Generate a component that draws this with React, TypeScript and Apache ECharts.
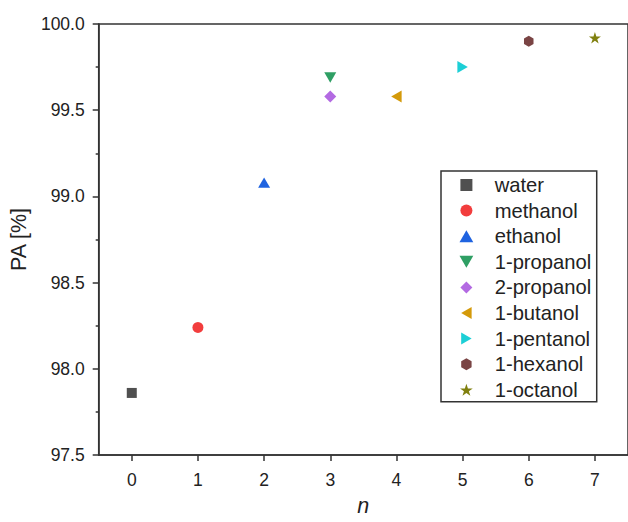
import React, { useEffect, useRef } from "react";
import * as echarts from "echarts";

// Number of carbon atoms n and the measured PA (%) for each solvent
const solvents = [
  "water",
  "methanol",
  "ethanol",
  "1-propanol",
  "2-propanol",
  "1-butanol",
  "1-pentanol",
  "1-hexanol",
  "1-octanol",
];
const carbonCount = [0, 1, 2, 3, 3, 4, 5, 6, 7];
const paValues = [97.86, 98.24, 99.08, 99.69, 99.58, 99.58, 99.75, 99.9, 99.92];
const xTicks = [0, 1, 2, 3, 4, 5, 6, 7];

const colors = [
  "#505050",
  "#f23d3d",
  "#1f63e0",
  "#2f9f64",
  "#b36ae2",
  "#d49a0a",
  "#1ccfd6",
  "#7a4444",
  "#80800f",
];

// Marker outlines as paths so that they keep their aspect in the legend too
const SQUARE = "path://M0,0 L10,0 L10,10 L0,10 Z";
const CIRCLE = "path://M5,0 A5,5 0 1,1 5,10 A5,5 0 1,1 5,0 Z";
const TRI_UP = "path://M5,0 L10,8.7 L0,8.7 Z";
const TRI_DOWN = "path://M0,0 L10,0 L5,8.7 Z";
const DIAMOND = "path://M5,0 L10,5 L5,10 L0,5 Z";
const TRI_LEFT = "path://M8.7,0 L8.7,10 L0,5 Z";
const TRI_RIGHT = "path://M0,0 L0,10 L8.7,5 Z";
const HEXAGON = "path://M5,0 L9.33,2.5 L9.33,7.5 L5,10 L0.67,7.5 L0.67,2.5 Z";
const STAR =
  "path://M50,0 L61.8,35.1 L98.6,35.1 L68.8,56.9 L80.2,92 L50,70.2 L19.8,92 L31.2,56.9 L1.4,35.1 L38.2,35.1 Z";

const symbols = [SQUARE, CIRCLE, TRI_UP, TRI_DOWN, DIAMOND, TRI_LEFT, TRI_RIGHT, HEXAGON, STAR];
const symbolSizes = [10, 11, 12, 12, 12, 12, 12, 11, 12];

const FONT = "'Liberation Sans', Arial, Helvetica, sans-serif";
const INK = "#222222";
const AXIS = "#333333";

export default function App() {
  const ref = useRef<HTMLDivElement>(null);

  useEffect(() => {
    if (!ref.current) return;
    const chart = echarts.init(ref.current, undefined, { renderer: "svg" });

    const series = solvents.map((name, i) => ({
      name,
      type: "scatter",
      symbol: symbols[i],
      symbolSize: symbolSizes[i],
      symbolKeepAspect: true,
      itemStyle: { color: colors[i], opacity: 1 },
      data: [[carbonCount[i], paValues[i]]],
    }));

    chart.setOption({
      animation: false,
      backgroundColor: "#ffffff",
      textStyle: { fontFamily: FONT },
      grid: {
        left: 98,
        top: 24,
        width: 538.6,
        height: 433.7,
        show: true,
        borderColor: AXIS,
        borderWidth: 1.5,
        backgroundColor: "transparent",
      },
      legend: {
        orient: "vertical",
        left: 441,
        top: 171,
        itemWidth: 46.6,
        itemHeight: 12,
        itemGap: 5.6,
        padding: [4, 5.5, 2, 18.5],
        borderColor: AXIS,
        borderWidth: 1.5,
        backgroundColor: "#ffffff",
        selectedMode: false,
        symbolKeepAspect: true,
        textStyle: {
          fontSize: 20.2,
          lineHeight: 20,
          color: INK,
          fontFamily: FONT,
        },
        data: solvents.map((name, i) => ({
          name,
          icon: symbols[i],
        })),
      },
      xAxis: {
        type: "value",
        min: -0.5,
        max: 7.5,
        name: "n",
        nameLocation: "middle",
        nameGap: 40,
        nameTextStyle: {
          fontSize: 21.5,
          fontStyle: "italic",
          color: INK,
          fontFamily: FONT,
        },
        axisLine: { onZero: false, lineStyle: { color: AXIS, width: 1.5 } },
        axisTick: {
          show: true,
          inside: false,
          length: 6,
          customValues: xTicks,
          lineStyle: { color: AXIS, width: 1.5 },
        },
        axisLabel: {
          customValues: xTicks,
          fontSize: 17.5,
          color: INK,
          margin: 16,
          fontFamily: FONT,
        },
        splitLine: { show: false },
      },
      yAxis: {
        type: "value",
        min: 97.5,
        max: 100,
        interval: 0.5,
        name: "PA [%]",
        nameLocation: "middle",
        nameGap: 62,
        nameTextStyle: { fontSize: 21.5, color: INK, fontFamily: FONT },
        axisLine: { show: true, onZero: false, lineStyle: { color: AXIS, width: 1.5 } },
        axisTick: {
          show: true,
          inside: false,
          length: 6,
          lineStyle: { color: AXIS, width: 1.5 },
        },
        minorTick: {
          show: true,
          splitNumber: 2,
          length: 3,
          lineStyle: { color: AXIS, width: 1.5 },
        },
        axisLabel: {
          fontSize: 17.5,
          color: INK,
          margin: 14,
          fontFamily: FONT,
          formatter: (v: number) => v.toFixed(1),
        },
        splitLine: { show: false },
      },
      series,
    });

    return () => chart.dispose();
  }, []);

  return (
    <div
      ref={ref}
      style={{ position: "fixed", left: 0, top: 0, width: 628, height: 522 }}
    />
  );
}
